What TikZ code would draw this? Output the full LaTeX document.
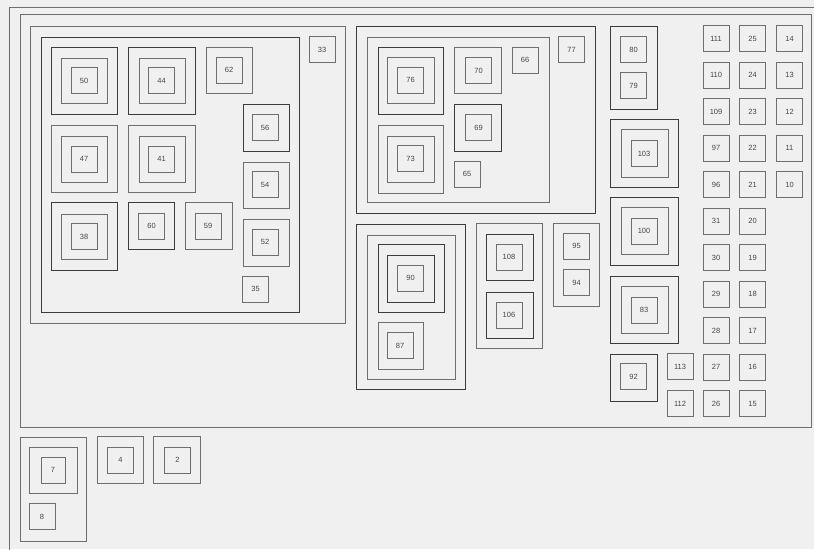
\documentclass[tikz,border=0pt]{standalone}
\usepackage{fontspec}
\setsansfont{Liberation Sans}
\usepackage{tikz}
\usetikzlibrary{positioning}
\definecolor{panelgray}{RGB}{240,240,240}
\definecolor{linegray}{RGB}{110,110,110}
\definecolor{darkline}{RGB}{60,60,60}
\definecolor{labelgray}{RGB}{70,70,70}

\begin{document}
\begin{tikzpicture}[x=1pt, y=-1pt,
    frame/.style={draw=linegray, line width=0.8pt},
    darkframe/.style={draw=darkline, line width=0.9pt},
    leaf/.style={rectangle, draw=linegray, line width=0.8pt, minimum width=26pt, minimum height=26pt,
        inner sep=0pt, font=\sffamily\fontsize{7.5}{9}\selectfont, text=labelgray}]

    \useasboundingbox (0,0) rectangle (814,549);
    \clip (0,0) rectangle (814,549);
    \fill[panelgray] (0,0) rectangle (814,549);

    % Outer frames
    \draw[frame] (9,7) rectangle (830,560);
    \draw[frame] (20,14) rectangle (811,427);

    % Left group
    \draw[frame] (30,26) rectangle (345,323);
    \draw[darkframe] (41,37) rectangle (299,312);
    \node[leaf] (n33) at (322,49.5) {33};

    \draw[darkframe] (51,47) rectangle (117,114);
    \draw[frame] (61,58) rectangle (107,103);
    \node[leaf] (n50) at (84,80.5) {50};
    \draw[darkframe] (128,47) rectangle (195,114);
    \draw[frame] (139,58) rectangle (185,103);
    \node[leaf] (n44) at (161.5,80.5) {44};
    \draw[frame] (206,47) rectangle (252,93);
    \node[leaf] (n62) at (229,70) {62};

    \draw[frame] (51,125) rectangle (117,192);
    \draw[frame] (61,136) rectangle (107,182);
    \node[leaf] (n47) at (84,159) {47};
    \draw[frame] (128,125) rectangle (195,192);
    \draw[frame] (139,136) rectangle (185,182);
    \node[leaf] (n41) at (161.5,159) {41};

    \draw[darkframe] (51,202) rectangle (117,270);
    \draw[frame] (61,214) rectangle (107,259);
    \node[leaf] (n38) at (84,236.5) {38};
    \draw[darkframe] (128,202) rectangle (174,249);
    \node[leaf] (n60) at (151.5,226) {60};
    \draw[frame] (185,202) rectangle (232,249);
    \node[leaf] (n59) at (208,226) {59};

    \draw[darkframe] (243,104) rectangle (289,151);
    \node[leaf] (n56) at (265,127.5) {56};
    \draw[frame] (243,162) rectangle (289,208);
    \node[leaf] (n54) at (265,184.5) {54};
    \draw[frame] (243,219) rectangle (289,266);
    \node[leaf] (n52) at (265,242) {52};
    \node[leaf] (n35) at (255.5,289) {35};

    % Middle group, top
    \draw[darkframe] (356,26) rectangle (595,213);
    \draw[frame] (367,37) rectangle (549,202);
    \node[leaf] (n77) at (571.5,49.5) {77};

    \draw[darkframe] (378,47) rectangle (443,114);
    \draw[frame] (387,57) rectangle (434,103);
    \node[leaf] (n76) at (410.5,80) {76};
    \draw[frame] (378,125) rectangle (443,193);
    \draw[frame] (387,136) rectangle (434,182);
    \node[leaf] (n73) at (410.5,158.5) {73};

    \draw[frame] (454,47) rectangle (501,93);
    \node[leaf] (n70) at (478.5,70.5) {70};
    \node[leaf] (n66) at (525,60) {66};
    \draw[darkframe] (454,104) rectangle (501,151);
    \node[leaf] (n69) at (478.5,127.5) {69};
    \node[leaf] (n65) at (467,174) {65};

    % Middle group, bottom
    \draw[darkframe] (356,224) rectangle (465,389);
    \draw[frame] (367,235) rectangle (455,379);
    \draw[darkframe] (378,244) rectangle (444,312);
    \draw[darkframe] (387,255) rectangle (434,302);
    \node[leaf] (n90) at (410.5,278) {90};
    \draw[frame] (378,322) rectangle (423,369);
    \node[leaf] (n87) at (400,345.5) {87};

    \draw[frame] (476,223) rectangle (542,348);
    \draw[darkframe] (486,234) rectangle (533,280);
    \node[leaf] (n108) at (509,257) {108};
    \draw[darkframe] (486,292) rectangle (533,338);
    \node[leaf] (n106) at (509,315) {106};

    \draw[frame] (553,223) rectangle (599,306);
    \node[leaf] (n95) at (576.5,246) {95};
    \node[leaf] (n94) at (576.5,282.5) {94};

    % Right column
    \draw[darkframe] (610,26) rectangle (657,109);
    \node[leaf] (n80) at (633.5,49.5) {80};
    \node[leaf] (n79) at (633.5,85.5) {79};

    \draw[darkframe] (610,119) rectangle (678,187);
    \draw[frame] (621,129) rectangle (668,177);
    \node[leaf] (n103) at (644,153.5) {103};
    \draw[darkframe] (610,197) rectangle (678,265);
    \draw[frame] (621,207) rectangle (668,254);
    \node[leaf] (n100) at (644,231) {100};
    \draw[darkframe] (610,276) rectangle (678,343);
    \draw[frame] (621,286) rectangle (668,333);
    \node[leaf] (n83) at (644,310) {83};
    \draw[darkframe] (610,354) rectangle (657,401);
    \node[leaf] (n92) at (633.5,376.5) {92};

    \node[leaf] (n113) at (680,366.5) {113};
    \node[leaf] (n112) at (680,403.5) {112};

    % Grid of single boxes
    \foreach \lab [count=\i from 0] in {111,110,109,97,96,31,30,29,28,27,26} {
        \node[leaf] (n\lab) at (716,38.5+36.5*\i) {\lab};
    }
    \foreach \lab [count=\i from 0] in {25,24,23,22,21,20,19,18,17,16,15} {
        \node[leaf] (n\lab) at (752.5,38.5+36.5*\i) {\lab};
    }
    \foreach \lab [count=\i from 0] in {14,13,12,11,10} {
        \node[leaf] (n\lab) at (789.5,38.5+36.5*\i) {\lab};
    }

    % Bottom row
    \draw[frame] (20,437) rectangle (86,541);
    \draw[frame] (29,447) rectangle (77,493);
    \node[leaf, minimum width=24pt] (n7) at (53,470) {7};
    \node[leaf] (n8) at (42,516.5) {8};
    \draw[frame] (97,436) rectangle (143,483);
    \node[leaf] (n4) at (120.5,460) {4};
    \draw[frame] (153,436) rectangle (200,483);
    \node[leaf] (n2) at (177.5,460) {2};
\end{tikzpicture}
\end{document}
